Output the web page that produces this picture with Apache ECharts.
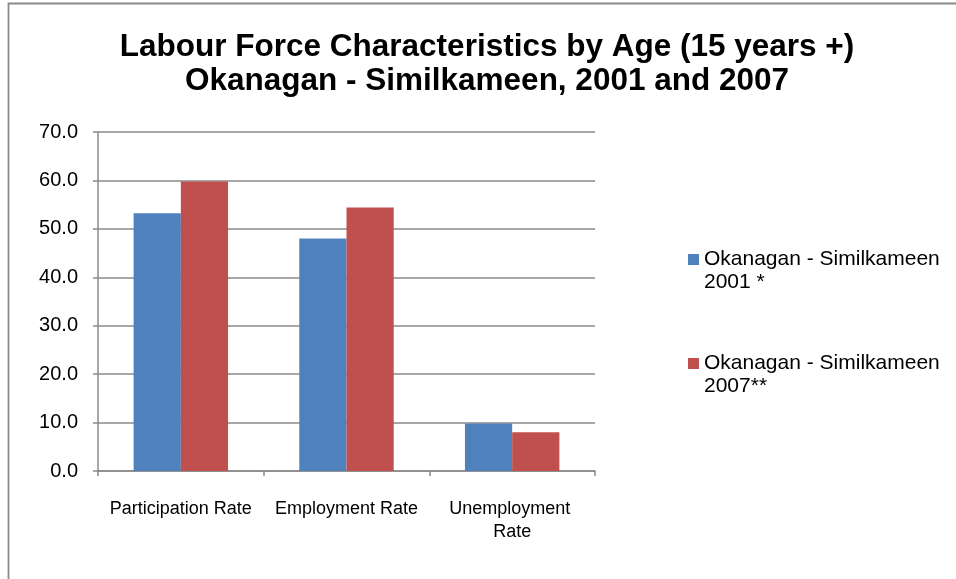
<!DOCTYPE html>
<html>
<head>
<meta charset="utf-8">
<script src="https://cdn.jsdelivr.net/npm/echarts@6/dist/echarts.min.js"></script>
<style>
  html, body { margin: 0; padding: 0; background: #fff; }
  #chart { width: 956px; height: 579px; }
</style>
</head>
<body>
<div id="chart"></div>
<script>
// Labour force rates (%) by category, for two survey years
const categories = ['Participation Rate', 'Employment Rate', 'Unemployment Rate'];
const seriesNames = ['Okanagan - Similkameen 2001 *', 'Okanagan - Similkameen 2007**'];
const values2001 = [53.2, 48.0, 9.8];
const values2007 = [59.8, 54.4, 8.0];
const titleLines = ['Labour Force Characteristics by Age (15 years +)', 'Okanagan - Similkameen, 2001 and 2007'];

const FONT = '"Liberation Sans", Arial, Helvetica, sans-serif';
const GRID_COLOR = '#8a8a8a';

const chart = echarts.init(document.getElementById('chart'), null, { renderer: 'canvas' });

// One legend block per series; the leading blank line keeps the swatch
// level with the first line of the wrapped name.
function legendFor(name, top) {
  return {
    data: [name],
    left: 683,
    top: top,
    orient: 'vertical',
    itemWidth: 11,
    itemHeight: 11,
    icon: 'rect',
    selectedMode: false,
    formatter: n => '\n' + n.replace(' 200', '\n200'),
    textStyle: {
      fontFamily: FONT,
      fontSize: 21,
      color: '#000',
      lineHeight: 23
    }
  };
}

chart.setOption({
  backgroundColor: '#ffffff',
  animation: false,
  title: {
    text: titleLines.join('\n'),
    left: 482,
    textAlign: 'center',
    top: 25,
    textStyle: {
      fontFamily: FONT,
      fontSize: 31.5,
      fontWeight: 'bold',
      color: '#000',
      lineHeight: 34
    }
  },
  legend: [
    legendFor(seriesNames[0], 220),
    legendFor(seriesNames[1], 324)
  ],
  grid: {
    left: 98,
    right: 361,
    top: 132,
    bottom: 108,
    containLabel: false,
    outerBoundsMode: 'none'
  },
  xAxis: {
    type: 'category',
    data: categories,
    axisLine: { show: true, lineStyle: { color: GRID_COLOR, width: 1.5 } },
    axisTick: { show: true, length: 5, lineStyle: { color: GRID_COLOR, width: 1.5 } },
    axisLabel: {
      fontFamily: FONT,
      fontSize: 18,
      color: '#000',
      margin: 27,
      lineHeight: 23,
      width: 152,
      overflow: 'break',
      interval: 0
    }
  },
  yAxis: {
    type: 'value',
    min: 0,
    max: 70,
    interval: 10,
    axisLine: { show: true, lineStyle: { color: GRID_COLOR, width: 1.5 } },
    axisTick: { show: true, length: 5, lineStyle: { color: GRID_COLOR, width: 1.5 } },
    splitLine: { show: true, lineStyle: { color: GRID_COLOR, width: 1.5 } },
    axisLabel: {
      fontFamily: FONT,
      fontSize: 20,
      color: '#000',
      margin: 20,
      formatter: v => v.toFixed(1)
    }
  },
  series: [
    {
      name: seriesNames[0],
      type: 'bar',
      data: values2001,
      itemStyle: { color: '#4f81bd' },
      barGap: '0%',
      barCategoryGap: '43%'
    },
    {
      name: seriesNames[1],
      type: 'bar',
      data: values2007,
      itemStyle: { color: '#c0504d' },
      barGap: '0%',
      barCategoryGap: '43%'
    }
  ],
  graphic: [
    {
      type: 'polyline',
      silent: true,
      shape: { points: [[8.5, 579], [8.5, 3.5], [956, 3.5]] },
      style: { stroke: GRID_COLOR, lineWidth: 1.8, fill: null }
    }
  ]
});
</script>
</body>
</html>
